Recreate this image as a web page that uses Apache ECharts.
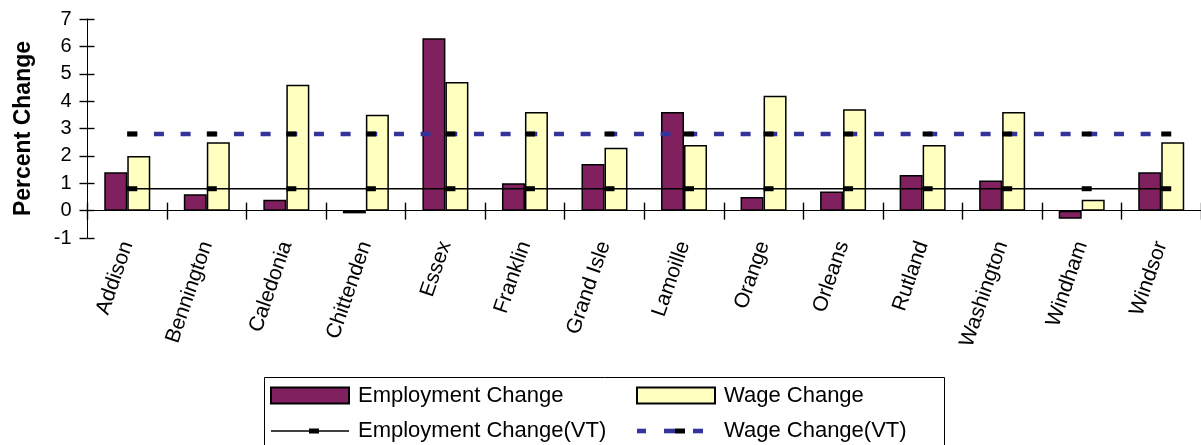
<!DOCTYPE html>
<html>
<head>
<meta charset="utf-8">
<script src="https://cdn.jsdelivr.net/npm/echarts@6/dist/echarts.min.js"></script>
<style>
  html, body { margin: 0; padding: 0; background: #fff; }
  #main { width: 1201px; height: 445px; }
</style>
</head>
<body>
<div id="main"></div>
<script>
// county names along the x axis
var counties = ['Addison', 'Bennington', 'Caledonia', 'Chittenden', 'Essex', 'Franklin', 'Grand Isle',
    'Lamoille', 'Orange', 'Orleans', 'Rutland', 'Washington', 'Windham', 'Windsor'];
var employmentChange = [1.4, 0.6, 0.4, -0.1, 6.3, 1.0, 1.7, 3.6, 0.5, 0.7, 1.3, 1.1, -0.3, 1.4];
var wageChange = [2.0, 2.5, 4.6, 3.5, 4.7, 3.6, 2.3, 2.4, 4.2, 3.7, 2.4, 3.6, 0.4, 2.5];
// statewide (VT) figures, same for every county
var employmentVT = [0.8, 0.8, 0.8, 0.8, 0.8, 0.8, 0.8, 0.8, 0.8, 0.8, 0.8, 0.8, 0.8, 0.8];
var wageVT = [2.8, 2.8, 2.8, 2.8, 2.8, 2.8, 2.8, 2.8, 2.8, 2.8, 2.8, 2.8, 2.8, 2.8];

var font = 'Liberation Sans, Arial, sans-serif';

// legend icons for the two line series (line + small dash marker)
var svgIcon = function (body) {
    var svg = "<svg xmlns='http://www.w3.org/2000/svg' width='78' height='16' viewBox='0 0 78 16'>" + body + "</svg>";
    return 'image://data:image/svg+xml;charset=utf-8,' + encodeURIComponent(svg);
};
var empVTIcon = svgIcon(
    "<line x1='0' y1='8' x2='78' y2='8' stroke='#000' stroke-width='1.5'/>" +
    "<rect x='38' y='5.5' width='10' height='5' fill='#000'/>");
var wageVTIcon = svgIcon(
    "<rect x='0' y='5.7' width='9' height='4.6' fill='#333399'/>" +
    "<rect x='27' y='5.7' width='11' height='4.6' fill='#333399'/>" +
    "<rect x='38' y='5.5' width='10' height='5' fill='#000'/>" +
    "<rect x='56' y='5.7' width='10' height='4.6' fill='#333399'/>");

var myChart = echarts.init(document.getElementById('main'));

var legendText = { color: '#000', fontSize: 22, fontFamily: font, lineHeight: 22, padding: [0, 0, 0, 4] };
var tickStyle = { color: '#000', width: 1.4 };

myChart.setOption({
    animation: false,
    backgroundColor: '#fff',
    grid: { left: 87.5, top: 19, width: 1120, height: 219, containLabel: false },
    legend: [
        {
            orient: 'vertical', left: 270, top: 384.5, padding: 0,
            itemWidth: 78, itemHeight: 16, itemGap: 13.5,
            textStyle: legendText,
            data: [
                { name: 'Employment Change', icon: 'rect' },
                { name: 'Employment Change(VT)', icon: empVTIcon }
            ]
        },
        {
            orient: 'vertical', left: 636, top: 384.5, padding: 0,
            itemWidth: 78, itemHeight: 16, itemGap: 13.5,
            textStyle: legendText,
            data: [
                { name: 'Wage Change', icon: 'rect' },
                { name: 'Wage Change(VT)', icon: wageVTIcon }
            ]
        }
    ],
    graphic: [{
        type: 'rect',
        shape: { x: 264.5, y: 377.5, width: 680, height: 100 },
        style: { fill: 'none', stroke: '#000', lineWidth: 1 },
        silent: true
    }],
    xAxis: [
        {   // labels only, below the plot
            type: 'category', data: counties, position: 'bottom',
            axisLine: { show: false, onZero: false },
            axisTick: { show: false },
            axisLabel: { rotate: 71, margin: 4, interval: 0, color: '#000', fontSize: 21, fontFamily: font }
        },
        {   // zero line with ticks going down
            type: 'category', data: counties, position: 'bottom',
            axisLine: { show: true, onZero: true, onZeroAxisIndex: 0, lineStyle: { color: '#000', width: 1 } },
            axisTick: { show: true, interval: 0, length: 9, lineStyle: tickStyle },
            axisLabel: { show: false, interval: 0 }
        },
        {   // upper half of the crossing ticks
            type: 'category', data: counties, position: 'top',
            axisLine: { show: false, onZero: true, onZeroAxisIndex: 0 },
            axisTick: { show: true, interval: 0, length: 8, lineStyle: tickStyle },
            axisLabel: { show: false, interval: 0 }
        }
    ],
    yAxis: [
        {
            type: 'value', min: -1, max: 7, interval: 1,
            name: 'Percent Change', nameLocation: 'middle', nameRotate: 90, nameGap: 52,
            nameTextStyle: { color: '#000', fontSize: 23, fontWeight: 'bold', fontFamily: font },
            axisLine: { show: true, lineStyle: { color: '#000', width: 1 } },
            axisTick: { show: true, length: 8, lineStyle: tickStyle },
            axisLabel: { margin: 16, color: '#000', fontSize: 20, fontFamily: font },
            splitLine: { show: false }
        },
        {
            type: 'value', min: -1, max: 7, interval: 1, position: 'left',
            axisLine: { show: false },
            axisTick: { show: true, inside: true, length: 7, lineStyle: tickStyle },
            axisLabel: { show: false },
            splitLine: { show: false }
        }
    ],
    series: [
        {
            name: 'Employment Change', type: 'bar',
            barWidth: 23, barGap: '0%',
            itemStyle: { color: '#80205F', borderColor: '#000', borderWidth: 1.5 },
            data: employmentChange
        },
        {
            name: 'Wage Change', type: 'bar',
            barWidth: 23, barGap: '0%',
            itemStyle: { color: '#FFFFC0', borderColor: '#000', borderWidth: 1.5 },
            data: wageChange
        },
        {
            name: 'Employment Change(VT)', type: 'line', z: 5,
            symbol: 'rect', symbolSize: [10, 5], symbolOffset: [5, 0],
            itemStyle: { color: '#000' },
            lineStyle: { color: '#000', width: 1.5 },
            data: employmentVT
        },
        {
            name: 'Wage Change(VT)', type: 'line', z: 5,
            symbol: 'rect', symbolSize: [10, 5], symbolOffset: [5, 0],
            itemStyle: { color: '#000' },
            lineStyle: { color: '#333399', width: 4.5, type: [10, 16.667] },
            data: wageVT
        }
    ]
});
</script>
</body>
</html>
